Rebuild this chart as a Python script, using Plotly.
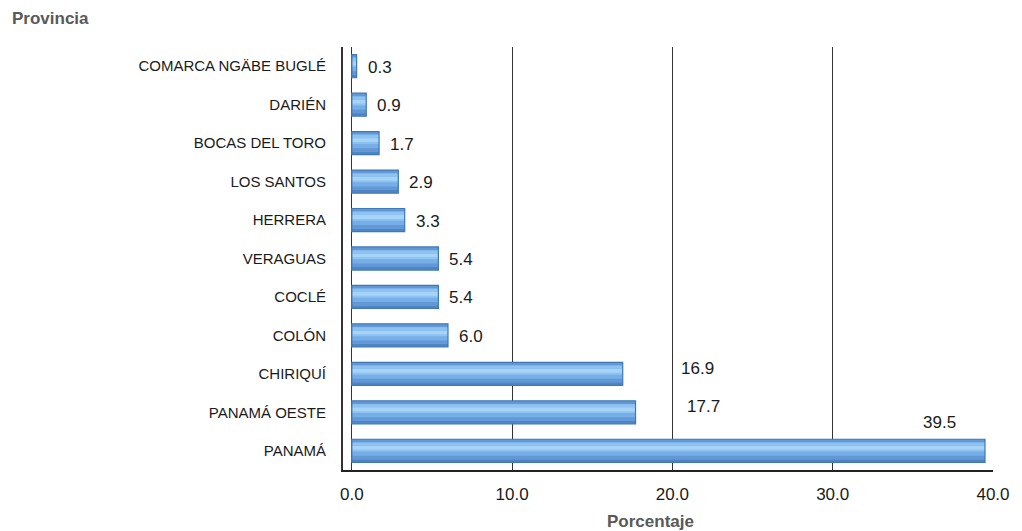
import plotly.graph_objects as go

# ---- data ----
provincias = ["PANAMÁ", "PANAMÁ OESTE", "CHIRIQUÍ", "COLÓN", "COCLÉ", "VERAGUAS",
              "HERRERA", "LOS SANTOS", "BOCAS DEL TORO", "DARIÉN", "COMARCA NGÄBE BUGLÉ"]
porcentaje = [39.5, 17.7, 16.9, 6.0, 5.4, 5.4, 3.3, 2.9, 1.7, 0.9, 0.3]
x_ticks = [0, 10, 20, 30, 40]
x_tick_labels = ["0.0", "10.0", "20.0", "30.0", "40.0"]

# label placement offsets in pixels (xshift, yshift, anchor)
label_offsets = {
    "PANAMÁ": (-45, 28, "center"),
    "PANAMÁ OESTE": (68, 6, "center"),
    "CHIRIQUÍ": (75, 5, "center"),
}

# shading bands of the cylinder: (offset, width, colour)
bands = [
    (-0.29, 0.07, "#4f85c4"),
    (-0.22, 0.09, "#6298d6"),
    (-0.02, 0.08, "#8fc2f0"),
    (0.03, 0.10, "#a6d3f8"),
    (0.13, 0.08, "#8fc2f0"),
    (0.24, 0.05, "#6298d6"),
]

# page has an 8px body margin, so figure coordinates are page - 8
W, H = 1014, 523
L, R, T, B = 335, 25, 39, 61
PW, PH = W - L - R, H - T - B

fig = go.Figure()
# base cylinder body
fig.add_trace(go.Bar(
    y=provincias, x=porcentaje, orientation="h", width=0.6, offset=-0.3,
    marker=dict(color="#76aee8", line=dict(width=0)),
    hoverinfo="x+y", showlegend=False))
for off, wd, col in bands:
    fig.add_trace(go.Bar(
        y=provincias, x=porcentaje, orientation="h", width=wd, offset=off,
        marker=dict(color=col, line=dict(width=0)),
        hoverinfo="skip", showlegend=False))
# outline
fig.add_trace(go.Bar(
    y=provincias, x=porcentaje, orientation="h", width=0.6, offset=-0.3,
    marker=dict(color="rgba(0,0,0,0)", line=dict(color="#3f78b5", width=1.2)),
    hoverinfo="skip", showlegend=False))

annotations = []
for p, v in zip(provincias, porcentaje):
    if p in label_offsets:
        xs, ys, anc = label_offsets[p]
    else:
        xs, ys, anc = 9, -1, "left"
    annotations.append(dict(
        x=v, y=p, xref="x", yref="y", text=f"{v:.1f}", showarrow=False,
        xanchor=anc, yanchor="middle", xshift=xs, yshift=ys,
        font=dict(family="Liberation Sans", size=17, color="#1a1a1a")))

annotations.append(dict(
    xref="paper", yref="paper", x=(0 - L) / PW, y=1 + (T - 10) / PH,
    text="<b>Provincia</b>", showarrow=False, xanchor="left", yanchor="middle",
    font=dict(family="Liberation Sans", size=17, color="#595959")))
annotations.append(dict(
    xref="paper", yref="paper", x=(644 - L) / PW, y=-(513 - (H - B)) / PH,
    text="<b>Porcentaje</b>", showarrow=False, xanchor="center", yanchor="middle",
    font=dict(family="Liberation Sans", size=17, color="#595959")))

fig.update_layout(
    width=W, height=H,
    margin=dict(l=L, r=R, t=T, b=B, pad=0),
    paper_bgcolor="white", plot_bgcolor="white",
    barmode="overlay",
    font=dict(family="Liberation Sans", size=15, color="#1a1a1a"),
    annotations=annotations,
    xaxis=dict(
        range=[-0.55, 40.0], tickvals=x_ticks, ticktext=x_tick_labels,
        showgrid=True, gridcolor="#333333", gridwidth=1.3,
        zeroline=False, showline=True, linecolor="#222222", linewidth=1.5,
        ticks="", ticklabelstandoff=8, tickfont=dict(size=17, color="#1a1a1a"),
        layer="above traces", fixedrange=True),
    yaxis=dict(
        categoryorder="array", categoryarray=provincias,
        range=[-0.5, 10.5], showgrid=False, zeroline=False,
        showline=True, linecolor="#333333", linewidth=2,
        ticks="", ticklabelstandoff=12, tickfont=dict(size=15, color="#1a1a1a"),
        fixedrange=True),
)

fig.write_html("out.html")
